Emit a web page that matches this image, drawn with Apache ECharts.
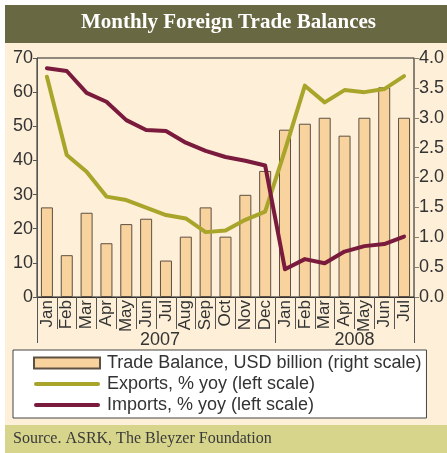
<!DOCTYPE html>
<html>
<head>
<meta charset="utf-8">
<script src="https://cdn.jsdelivr.net/npm/echarts@6/dist/echarts.min.js"></script>
<style>
html, body { margin: 0; padding: 0; background: #fff; }
#chart { width: 447px; height: 453px; }
</style>
</head>
<body>
<div id="chart"></div>
<script>
// categories
var months = ['Jan', 'Feb', 'Mar', 'Apr', 'May', 'Jun', 'Jul', 'Aug', 'Sep', 'Oct', 'Nov', 'Dec',
              'Jan', 'Feb', 'Mar', 'Apr', 'May', 'Jun', 'Jul'];
var years = ['2007', '2008'];
var yearStart = [0, 12];   // index of first month of each year

// series values
var tradeBalance = [1.5, 0.7, 1.41, 0.9, 1.22, 1.31, 0.61, 1.01, 1.5, 1.01, 1.71, 2.11,
                    2.8, 2.9, 3.0, 2.7, 3.0, 3.51, 3.0];
var exportsYoy = [64.5, 41.6, 36.7, 29.4, 28.4, 26.2, 24.0, 23.0, 19.0, 19.5, 22.6, 25.0,
                  43.0, 61.9, 57.0, 60.6, 60.0, 60.9, 64.7];
var importsYoy = [67.0, 66.2, 59.8, 57.2, 51.8, 48.9, 48.6, 45.2, 42.8, 41.0, 39.9, 38.5,
                  8.1, 11.1, 9.9, 13.3, 14.9, 15.5, 17.7];

// tick labels
var leftTicks = { min: 0, max: 70, interval: 10 };
var rightTicks = { min: 0, max: 4, interval: 0.5 };

var names = ['Trade Balance, USD billion (right scale)', 'Exports, % yoy (left scale)', 'Imports, % yoy (left scale)'];

var myChart = echarts.init(document.getElementById('chart'));

var txt = '#333';
var font = 'Liberation Sans, Arial, sans-serif';
// legend line icon: long thin bar with round ends
var lineIcon = 'path://M2,0 L64,0 A2,2 0 0 1 64,4 L2,4 A2,2 0 0 1 2,0 Z';

var graphic = [
    { type: 'rect', z: -10, shape: { x: 5, y: 5, width: 442, height: 38 }, style: { fill: '#686842' } },
    { type: 'rect', z: -10, shape: { x: 5, y: 43, width: 442, height: 382 }, style: { fill: '#fdefd8' } },
    { type: 'rect', z: -10, shape: { x: 5, y: 425, width: 442, height: 28 }, style: { fill: '#d6d58b' } }
];

var title = [
    {
        text: 'Monthly Foreign Trade Balances',
        left: 81,
        top: 12,
        padding: 0,
        textStyle: { color: '#fff', fontFamily: 'Liberation Serif, serif', fontWeight: 'bold', fontSize: 21 }
    },
    {
        text: 'Source. ASRK, The Bleyzer Foundation',
        left: 13,
        top: 431,
        padding: 0,
        textStyle: { color: '#3a3a3a', fontFamily: 'Liberation Serif, serif', fontWeight: 'normal', fontSize: 16 }
    }
];

var grid = {
    left: 37, right: 32, top: 58, bottom: 156,
    show: true, borderColor: '#222', borderWidth: 1, backgroundColor: 'transparent'
};

var xAxis = [
    {
        type: 'category',
        data: months,
        position: 'bottom',
        axisLine: { show: true, lineStyle: { color: '#333', width: 1 } },
        axisTick: { show: true, interval: 0, length: 32, lineStyle: { color: '#555' } },
        axisLabel: { interval: 0, rotate: 90, margin: 3, fontSize: 17, color: txt, fontFamily: font }
    },
    {
        type: 'category',
        data: months,
        position: 'bottom',
        axisLine: { show: false },
        axisTick: {
            show: true, length: 46, lineStyle: { color: '#555' },
            interval: function (index) { return yearStart.indexOf(index) >= 0; }
        },
        axisLabel: {
            interval: 0, margin: 34, fontSize: 18, color: txt, fontFamily: font,
            formatter: function (v, index) {
                if (index === 6) return '{a|' + years[0] + '}';
                if (index === 15) return '{b|' + years[1] + '}';
                return '';
            },
            rich: {
                a: { fontSize: 18, color: txt, fontFamily: font, padding: [0, 12, 0, 0] },
                b: { fontSize: 18, color: txt, fontFamily: font, padding: [0, 0, 0, 20] }
            }
        }
    }
];

var yAxis = [
    {
        type: 'value',
        position: 'left',
        min: leftTicks.min, max: leftTicks.max, interval: leftTicks.interval,
        axisLine: { show: true, lineStyle: { color: '#555' } },
        axisTick: { show: true, length: 4, lineStyle: { color: '#555' } },
        axisLabel: { margin: 4, fontSize: 18, color: txt, fontFamily: font },
        splitLine: { show: false }
    },
    {
        type: 'value',
        position: 'right',
        min: rightTicks.min, max: rightTicks.max, interval: rightTicks.interval,
        axisLine: { show: true, lineStyle: { color: '#8a8070' } },
        axisTick: { show: true, length: 5, lineStyle: { color: '#8a8070' } },
        axisLabel: { margin: 5, fontSize: 18, color: txt, fontFamily: font,
            formatter: function (v) { return v.toFixed(1); } },
        splitLine: { show: false }
    }
];

var legend = {
    orient: 'vertical',
    left: 13,
    top: 350,
    width: 414,
    padding: [4, 5, 4, 20],
    itemGap: 3,
    itemWidth: 66,
    itemHeight: 11,
    backgroundColor: '#fff',
    borderColor: '#444',
    borderWidth: 1,
    textStyle: { fontSize: 18, color: txt, fontFamily: font, padding: [0, 0, 0, 2] },
    data: [
        { name: names[0], icon: 'rect' },
        { name: names[1], icon: lineIcon },
        { name: names[2], icon: lineIcon }
    ]
};

var series = [
    {
        name: names[0],
        type: 'bar',
        xAxisIndex: 0,
        yAxisIndex: 1,
        barWidth: 12,
        itemStyle: { color: '#f8d39e', borderColor: '#5e5042', borderWidth: 1 },
        data: tradeBalance
    },
    {
        name: names[1],
        type: 'line',
        xAxisIndex: 0,
        yAxisIndex: 0,
        symbol: 'none',
        lineStyle: { color: '#a8a52a', width: 4, cap: 'round', join: 'round' },
        itemStyle: { color: '#a8a52a' },
        data: exportsYoy
    },
    {
        name: names[2],
        type: 'line',
        xAxisIndex: 0,
        yAxisIndex: 0,
        symbol: 'none',
        lineStyle: { color: '#7a1a3c', width: 4, cap: 'round', join: 'round' },
        itemStyle: { color: '#7a1a3c' },
        data: importsYoy
    }
];

myChart.setOption({
    animation: false,
    graphic: graphic,
    title: title,
    grid: grid,
    legend: legend,
    xAxis: xAxis,
    yAxis: yAxis,
    series: series
});
</script>
</body>
</html>
